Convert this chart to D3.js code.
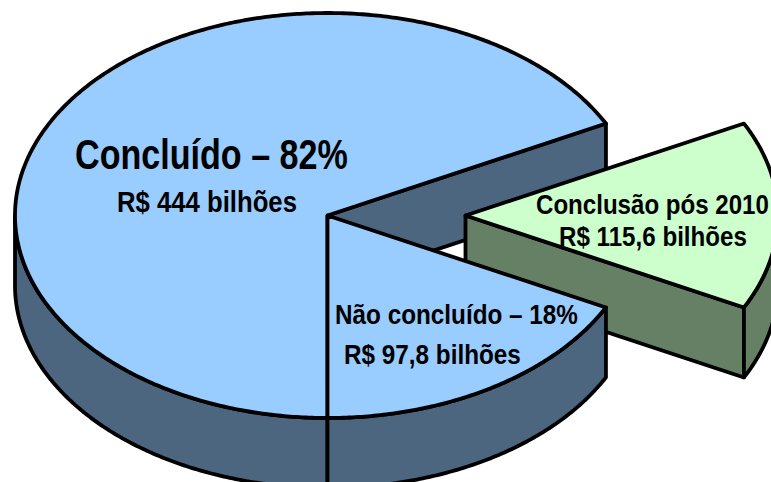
<!DOCTYPE html>
<html lang="pt">
<head>
    <meta charset="UTF-8" />
    <title>Concluído - 82%</title>
    <script src="https://d3js.org/d3.v7.min.js"></script>
    <style>
        html, body { margin: 0; padding: 0; background: #fff; overflow: hidden; }
        svg { display: block; }
        path { stroke: #000; stroke-width: 3.8; stroke-linejoin: round; }
        text { font-family: "Liberation Sans Narrow", "Liberation Sans", Arial, sans-serif; font-weight: 700; fill: #000; }
    </style>
</head>
<body>
<div id="chart"></div>
<script>
    // Fatias, na ordem horária a partir da base da pizza
    const sliceNames = ["Concluído", "Conclusão pós 2010", "Não concluído"];
    const sliceSpans = [243, 54, 63]; // graus
    const sliceTop = ["#99ccff", "#ccffcc", "#99ccff"];
    const sliceSide = ["#4d6680", "#668066", "#4d6680"];
    const sliceShift = [0, 138, 0]; // deslocamento da fatia destacada

    const labelLines = ["Concluído – 82%", "R$ 444 bilhões", "Não concluído – 18%", "R$ 97,8 bilhões", "Conclusão pós 2010", "R$ 115,6 bilhões"];
    const labelX = [75, 117, 335, 344, 536, 559];
    const labelY = [169, 212, 324, 364, 214, 246];
    const labelSize = [43, 29, 28, 28, 28, 28];
    const labelWidth = [273, 180, 243, 177, 233, 188];

    const w = 771, h = 482;
    const depth = 70;
    const x = d3.scaleLinear().domain([-1, 1]).range([15, 640]);
    const y = d3.scaleLinear().domain([-1, 1]).range([13, 418]);

    const svg = d3.select("#chart").append("svg").attr("width", w).attr("height", h);

    // a pizza começa na base; depois da volta os ângulos são trazidos para 0..2π
    const arcs = d3.pie().sort(null).value(d => d)
        .startAngle(Math.PI).endAngle(3 * Math.PI)(sliceSpans)
        .map((d, i) => i === 0 ? d : { startAngle: d.startAngle - 2 * Math.PI, endAngle: d.endAngle - 2 * Math.PI });

    const line = d3.line().x(d => d[0]).y(d => d[1]);

    // ponto da borda no ângulo a (0 = topo, sentido horário)
    function rim(a, shift, drop) {
        return [x(Math.sin(a)) + shift, y(-Math.cos(a)) + drop];
    }

    function arcPoints(a0, a1, shift, drop) {
        const n = Math.max(2, Math.ceil(Math.abs(a1 - a0) / 0.01));
        return d3.range(n + 1).map(i => rim(a0 + (a1 - a0) * i / n, shift, drop));
    }

    function topFace(i) {
        const s = sliceShift[i], c = [x(0) + s, y(0)];
        return line([c, ...arcPoints(arcs[i].startAngle, arcs[i].endAngle, s, 0)]) + "Z";
    }

    // parede curva: só a parte voltada para a frente (de 90° a 270°)
    function sideFace(i) {
        const s = sliceShift[i];
        const a0 = Math.max(arcs[i].startAngle, Math.PI / 2);
        const a1 = Math.min(arcs[i].endAngle, 3 * Math.PI / 2);
        return line([...arcPoints(a0, a1, s, 0), ...arcPoints(a1, a0, s, depth)]) + "Z";
    }

    // parede reta entre o centro e a borda no ângulo a
    function cutFace(a, shift) {
        const c = [x(0) + shift, y(0)];
        return line([c, rim(a, shift, 0), rim(a, shift, depth), [c[0], c[1] + depth]]) + "Z";
    }

    const backAngle = arcs[1].startAngle;

    // parede de trás do vão
    svg.append("path").attr("d", cutFace(backAngle, 0)).attr("fill", sliceSide[0]);

    // fatia destacada
    const green = svg.append("g");
    green.append("path").attr("d", cutFace(arcs[1].endAngle, sliceShift[1])).attr("fill", sliceSide[1]);
    green.append("path").attr("d", sideFace(1)).attr("fill", sliceSide[1]);
    green.append("path").attr("d", topFace(1)).attr("fill", sliceTop[1]);

    // corpo da pizza
    svg.append("path").attr("d", sideFace(0)).attr("fill", sliceSide[0]);
    svg.append("path").attr("d", sideFace(2)).attr("fill", sliceSide[2]);
    svg.append("path").attr("d", topFace(0)).attr("fill", sliceTop[0]);
    svg.append("path").attr("d", topFace(2)).attr("fill", sliceTop[2]);

    // textos estreitos: a largura vem da figura, a escala horizontal do texto medido
    svg.selectAll("text")
        .data(labelLines)
        .enter()
        .append("text")
        .attr("font-size", (d, i) => labelSize[i])
        .text(d => d)
        .attr("transform", function (d, i) {
            const k = labelWidth[i] / this.getComputedTextLength();
            return `translate(${labelX[i]},${labelY[i]}) scale(${k},1)`;
        });
</script>
</body>
</html>
